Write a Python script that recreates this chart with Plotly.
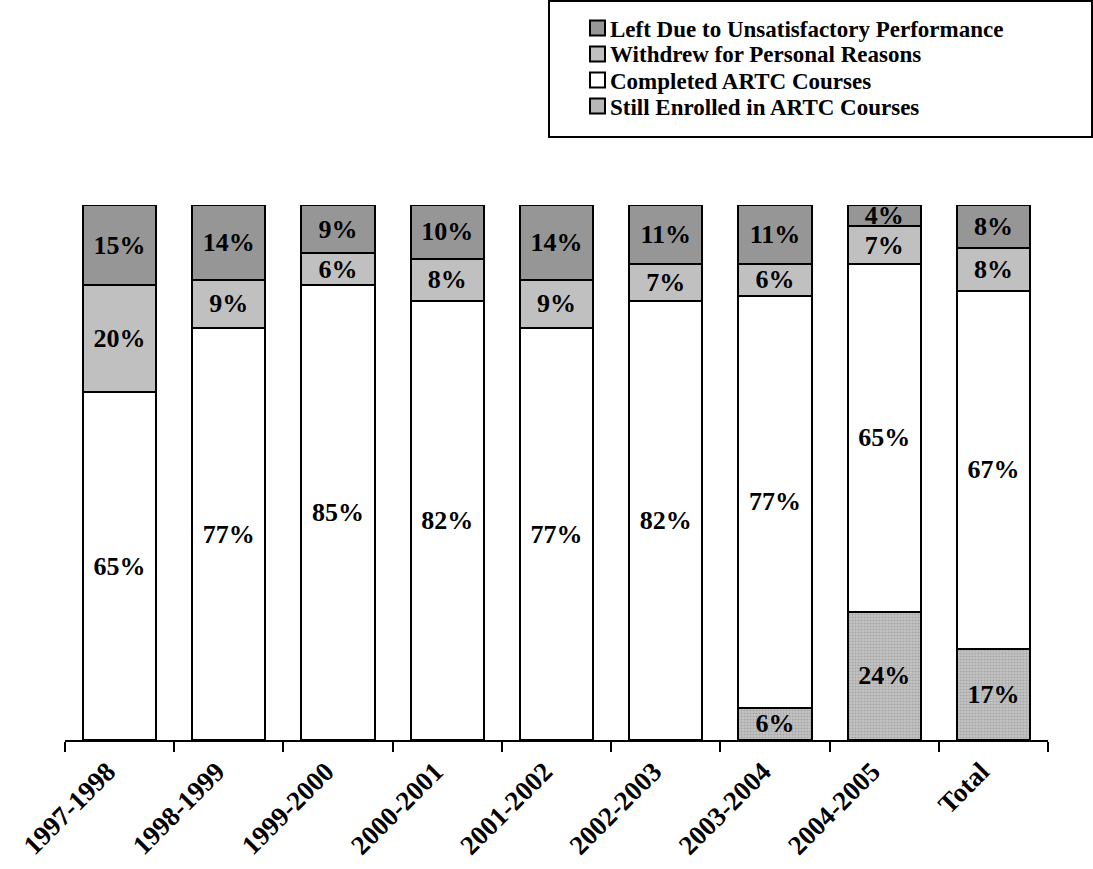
import plotly.graph_objects as go

# School years plus the overall total
years = ["1997-1998", "1998-1999", "1999-2000", "2000-2001", "2001-2002",
         "2002-2003", "2003-2004", "2004-2005", "Total"]

# Percent of students in each outcome (stacked bottom to top)
still_enrolled = [0, 0, 0, 0, 0, 0, 6, 24, 17]
completed = [65, 77, 85, 82, 77, 82, 77, 65, 67]
withdrew = [20, 9, 6, 8, 9, 7, 6, 7, 8]
left_unsatisfactory = [15, 14, 9, 10, 14, 11, 11, 4, 8]

FONT = "Liberation Serif"

# Plot-area geometry in pixels (used to place the legend box)
W, H = 1093, 869
ML, MR, MT, MB = 65, 45, 205, 129
PW, PH = W - ML - MR, H - MT - MB


def px_x(x):
    return (x - ML) / PW


def px_y(y):
    return (H - MB - y) / PH


def labels(vals):
    return [f"<b>{v}%</b>" if v > 0 else "" for v in vals]


series = [
    ("Still Enrolled in ARTC Courses", still_enrolled, "#b8b8b8",
     dict(shape=".", size=3, solidity=0.4, fgcolor="#858585", bgcolor="#c4c4c4")),
    ("Completed ARTC Courses", completed, "#ffffff", None),
    ("Withdrew for Personal Reasons", withdrew, "#c0c0c0", None),
    ("Left Due to Unsatisfactory Performance", left_unsatisfactory, "#969696", None),
]

fig = go.Figure()
for name, vals, color, pattern in series:
    marker = dict(color=color, line=dict(color="black", width=2))
    if pattern:
        marker["pattern"] = pattern
    fig.add_trace(go.Bar(
        x=years, y=[v if v > 0 else None for v in vals], name=name,
        marker=marker,
        text=labels(vals),
        textposition="inside",
        insidetextanchor="middle",
        textangle=0,
        constraintext="none",
        textfont=dict(family=FONT, size=26, color="black"),
        hoverinfo="skip",
        showlegend=False,
    ))

# Legend: framed box with one swatch + label per series, top entry first
fig.add_shape(type="rect", xref="paper", yref="paper",
              x0=px_x(549), x1=px_x(1092), y0=px_y(137), y1=px_y(1),
              line=dict(color="black", width=2), fillcolor="rgba(0,0,0,0)")

row_centers = [28, 54, 80, 106]
for (name, _, color, pattern), cy in zip(reversed(series), row_centers):
    fig.add_shape(type="rect", xref="paper", yref="paper",
                  x0=px_x(590), x1=px_x(605), y0=px_y(cy + 7.5), y1=px_y(cy - 7.5),
                  line=dict(color="black", width=2), fillcolor=color)
    fig.add_annotation(xref="paper", yref="paper", x=px_x(608), y=px_y(cy + 1),
                       xanchor="left", yanchor="middle", showarrow=False,
                       text=f"<b>{name}</b>",
                       font=dict(family=FONT, size=23, color="black"))

fig.update_layout(
    width=W, height=H,
    barmode="stack",
    bargap=0.33,
    paper_bgcolor="white",
    plot_bgcolor="white",
    margin=dict(l=ML, r=MR, t=MT, b=MB),
    font=dict(family=FONT, color="black"),
    showlegend=False,
    xaxis=dict(
        automargin=False,
        showline=True, linecolor="black", linewidth=2,
        ticks="outside", tickson="boundaries", ticklen=10,
        tickwidth=2, tickcolor="black",
        tickangle=-45,
        ticklabelshift=-12,
        ticklabelstandoff=3,
        tickfont=dict(family=FONT, size=27, color="black"),
        tickprefix="<b>", ticksuffix="</b>",
        showgrid=False,
    ),
    yaxis=dict(range=[0, 100], visible=False, showgrid=False, automargin=False),
)

fig.write_html("out.html")
